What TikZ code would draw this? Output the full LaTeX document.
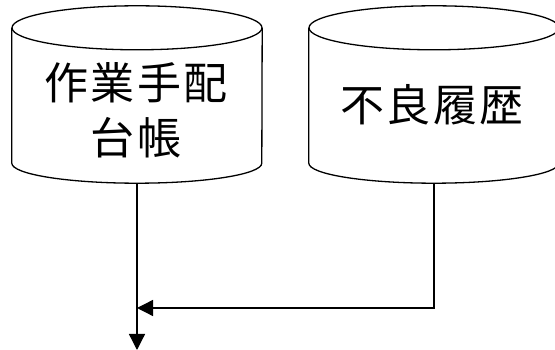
\documentclass[tikz,border=0pt]{standalone}
\usepackage{fontspec}
\newfontfamily\cjk[LetterSpace=5]{Noto Sans CJK JP}
\usetikzlibrary{arrows.meta}
\tikzset{x=1pt, y=1pt,
	drum body/.style={inner sep=0pt, minimum width=250pt, minimum height=135pt},
	drum line/.style={draw=black, line width=1.3pt},
	db label/.style={font=\cjk\fontsize{44}{55}\selectfont, align=center},
	flow/.style={draw=black, line width=1.3pt,
		-{Triangle[length=16pt, width=16pt]}}
}
% #1 name, #2 centre x
\def\Drum#1#2{%
	\node (#1) [drum body] at (#2,254.5) {};
	\draw[drum line] (#1.north west) -- (#1.south west)
		arc[start angle=180, end angle=360, x radius=125, y radius=20]
		-- (#1.north east);
	\draw[drum line] (#1.north) ellipse[x radius=125, y radius=22];
	\coordinate (#1 out) at ([yshift=-20pt]#1.south);
}

\begin{document}
\begin{tikzpicture}
\useasboundingbox (0,0) rectangle (555,350);
\Drum{plan}{137}
\Drum{defect}{434}
\node (planlabel) [db label] at (136,240) {作業手配\\台帳};
\node (defectlabel) [db label] at (432,245) {不良履歴};
\coordinate (out) at (137,0);
\coordinate (bend) at (434,42);
\draw[flow] (plan out) -- (out);
\draw[flow] (defect out) -- (bend) -- (plan out |- bend);

\end{tikzpicture}
\end{document}
